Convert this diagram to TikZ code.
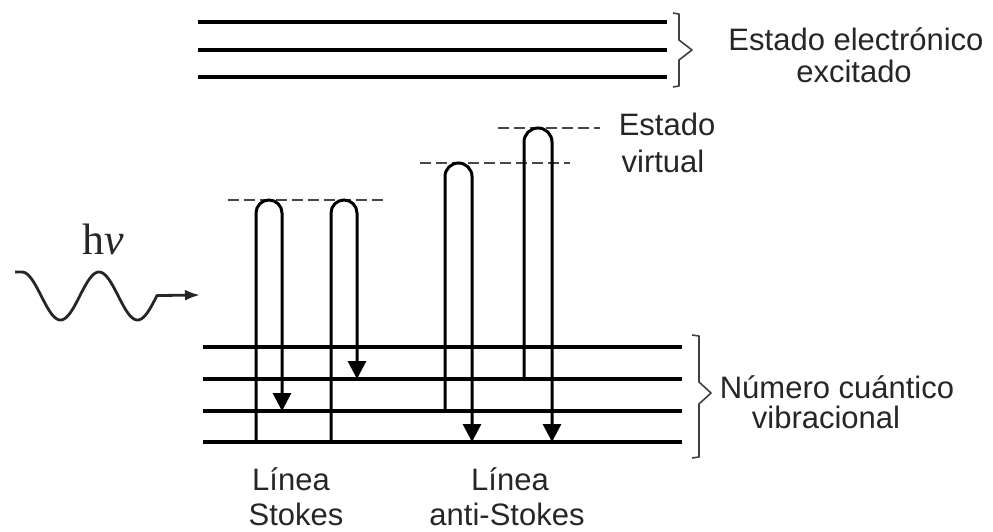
\documentclass[tikz,border=0pt]{standalone}
\usepackage{fontspec}
\setmainfont{Liberation Sans}
\newfontfamily\hvfont{Liberation Serif}
\usetikzlibrary{arrows.meta}
\begin{document}
\begin{tikzpicture}[x=1pt,y=-1pt,
  level/.style={line width=3.8pt, black},
  trans/.style={line width=3pt, black, -{Triangle[length=18pt,width=18pt]}},
  virt/.style={line width=2.2pt, black!72, dash pattern=on 11pt off 5pt},
  brc/.style={line width=1.6pt, black!75, line join=round},
  wave/.style={line width=2.8pt, black!85, line join=round, -{Latex[length=15pt,width=11pt]}},
  lbl/.style={font=\fontsize{31}{35}\selectfont, text=black!85, inner sep=0pt, anchor=base},
]
\useasboundingbox (0,0) rectangle (993,531);

% excited electronic state levels
\coordinate (e1l) at (198,22); \coordinate (e1r) at (667,22);
\coordinate (e2l) at (198,50); \coordinate (e2r) at (667,50);
\coordinate (e3l) at (198,77); \coordinate (e3r) at (667,77);
\draw[level] (e1l) -- (e1r);
\draw[level] (e2l) -- (e2r);
\draw[level] (e3l) -- (e3r);

% vibrational levels
\coordinate (v3l) at (203,347); \coordinate (v3r) at (682,347);
\coordinate (v2l) at (203,379); \coordinate (v2r) at (682,379);
\coordinate (v1l) at (203,411); \coordinate (v1r) at (682,411);
\coordinate (v0l) at (203,442); \coordinate (v0r) at (682,442);
\draw[level] (v3l) -- (v3r);
\draw[level] (v2l) -- (v2r);
\draw[level] (v1l) -- (v1r);
\draw[level] (v0l) -- (v0r);

% virtual states
\coordinate (d1a) at (228,200); \coordinate (d1b) at (388,200);
\coordinate (d2a) at (420,163); \coordinate (d2b) at (570,163);
\coordinate (d3a) at (498,128); \coordinate (d3b) at (600,128);
\draw[virt] (d1a) -- (d1b);
\draw[virt] (d2a) -- (d2b);
\draw[virt] (d3a) -- (d3b);

% transitions (Stokes)
\coordinate (s1a) at (256,442); \coordinate (s1b) at (282,411);
\coordinate (s2a) at (331,442); \coordinate (s2b) at (357,379);
\draw[trans] (s1a) -- (256,213) arc[start angle=180,end angle=360,radius=13] -- (s1b);
\draw[trans] (s2a) -- (331,213) arc[start angle=180,end angle=360,radius=13] -- (s2b);
% transitions (anti-Stokes)
\coordinate (a1a) at (445,411); \coordinate (a1b) at (472,442);
\coordinate (a2a) at (524,379); \coordinate (a2b) at (552,442);
\draw[trans] (a1a) -- (445,176.5) arc[start angle=180,end angle=360,radius=13.5] -- (a1b);
\draw[trans] (a2a) -- (524,142) arc[start angle=180,end angle=360,radius=14] -- (a2b);

% incoming photon
\coordinate (hvstart) at (15,272);
\coordinate (hvend) at (200,295);
\draw[wave] (hvstart) -- (22,272) plot[domain=22:157, samples=90, smooth] (\x, {296-24*cos(4.675*(\x-22))}) -- (hvend);
\node[lbl, anchor=base west, font=\fontsize{44}{48}\selectfont] (hv) at (82,254) {\hvfont h\textit{ν}};

% braces
\draw[brc] (673,13) -- (679,14) -- (679,40) -- (692,50) -- (679,60) -- (679,86) -- (673,87);
\draw[brc] (692,335) -- (699,336) -- (699,382) -- (711,393) -- (699,404) -- (699,457) -- (692,458);

% labels
\node[lbl] (ee1) at (856,50) {Estado electrónico};
\node[lbl] (ee2) at (854,82) {excitado};
\node[lbl] (ev1) at (667,135) {Estado};
\node[lbl] (ev2) at (663,172) {virtual};
\node[lbl] (nq1) at (837,398) {Número cuántico};
\node[lbl] (nq2) at (826,428) {vibracional};
\node[lbl] (ls1) at (291,490) {Línea};
\node[lbl] (ls2) at (296,525) {Stokes};
\node[lbl] (la1) at (510,490) {Línea};
\node[lbl] (la2) at (507,525) {anti-Stokes};
\end{tikzpicture}
\end{document}
